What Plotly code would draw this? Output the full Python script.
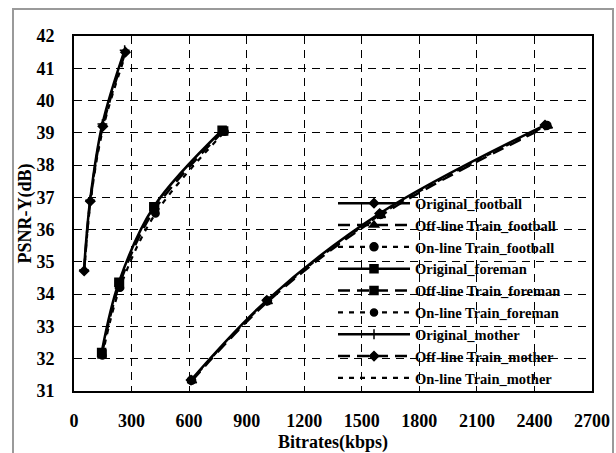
import plotly.graph_objects as go

# ---- data ----
football_orig_x = [610, 1005, 1593, 2455]
football_orig_y = [31.34, 33.81, 36.50, 39.24]
football_off_x = [615, 1010, 1600, 2470]
football_off_y = [31.32, 33.77, 36.44, 39.21]
football_on_x = [612, 1008, 1598, 2465]
football_on_y = [31.33, 33.79, 36.47, 39.23]

foreman_orig_x = [144, 234, 416, 772]
foreman_orig_y = [32.19, 34.37, 36.71, 39.08]
foreman_off_x = [146, 237, 420, 780]
foreman_off_y = [32.15, 34.30, 36.62, 39.06]
foreman_on_x = [148, 240, 425, 785]
foreman_on_y = [32.10, 34.20, 36.50, 39.03]

mother_orig_x = [52, 84, 148, 264]
mother_orig_y = [34.75, 36.91, 39.27, 41.56]
mother_off_x = [53, 85, 150, 268]
mother_off_y = [34.72, 36.88, 39.20, 41.50]
mother_on_x = [54, 86, 152, 270]
mother_on_y = [34.70, 36.85, 39.15, 41.45]

names = ["Original_football", "Off-line Train_football", "On-line Train_football",
         "Original_foreman", "Off-line Train_foreman", "On-line Train_foreman",
         "Original_mother", "Off-line Train_mother", "On-line Train_mother"]

xticks = [0, 300, 600, 900, 1200, 1500, 1800, 2100, 2400, 2700]
yticks = [31, 32, 33, 34, 35, 36, 37, 38, 39, 40, 41, 42]

series = [
    (football_orig_x, football_orig_y),
    (football_off_x, football_off_y),
    (football_on_x, football_on_y),
    (foreman_orig_x, foreman_orig_y),
    (foreman_off_x, foreman_off_y),
    (foreman_on_x, foreman_on_y),
    (mother_orig_x, mother_orig_y),
    (mother_off_x, mother_off_y),
    (mother_on_x, mother_on_y),
]

SOLID = "solid"
LONG = "12px,7px"
SHORT = "5px,6px"
styles = [
    (SOLID, 2.5, "diamond", 7),
    (LONG, 2.5, "triangle-up", 8),
    (SHORT, 2.2, "circle", 8),
    (SOLID, 2.5, "square", 8),
    (LONG, 2.5, "square", 8),
    (SHORT, 2.2, "circle", 7),
    (SOLID, 2.5, "cross-thin-open", 7),
    (LONG, 2.5, "diamond", 7),
    (SHORT, 2.2, None, 0),
]

fig = go.Figure()
for (xs, ys), nm, (dash, w, sym, sz) in zip(series, names, styles):
    mode = "lines+markers" if sym else "lines"
    marker = dict(symbol=sym, size=sz, color="black",
                  line=dict(color="black", width=1.5)) if sym else None
    fig.add_trace(go.Scatter(
        x=xs, y=ys, name=nm, mode=mode,
        line=dict(color="black", width=w, dash=dash, shape="spline", smoothing=1.0),
        marker=marker,
    ))

font_family = "Liberation Serif, Times New Roman, serif"

fig.update_layout(
    width=616, height=453,
    margin=dict(l=74, r=24, t=36, b=62, autoexpand=False),
    paper_bgcolor="white", plot_bgcolor="white",
    font=dict(family=font_family, color="black"),
    showlegend=True,
    legend=dict(
        x=0.50, y=0.574, xanchor="left", yanchor="top",
        bgcolor="rgba(0,0,0,0)", borderwidth=0,
        font=dict(family=font_family, size=14.5, color="black", weight="bold"),
        itemwidth=72, tracegroupgap=0,
    ),
    xaxis=dict(
        range=[0, 2700], tickvals=xticks, ticktext=[str(v) for v in xticks],
        automargin=False,
        showgrid=True, gridcolor="black", griddash="8px,6px", gridwidth=1,
        showline=True, linecolor="black", linewidth=2, mirror=True,
        ticks="inside", ticklen=5, tickcolor="black", zeroline=False,
        ticklabelstandoff=12,
        tickfont=dict(family=font_family, size=18, color="black", weight="bold"),
        title=dict(text="Bitrates(kbps)", standoff=6,
                   font=dict(family=font_family, size=18, color="black", weight="bold")),
    ),
    yaxis=dict(
        range=[31, 42], tickvals=yticks,
        automargin=False,
        showgrid=True, gridcolor="black", griddash="8px,6px", gridwidth=1,
        showline=True, linecolor="black", linewidth=2, mirror=True,
        ticks="inside", ticklen=5, tickcolor="black", zeroline=False,
        ticklabelstandoff=14,
        tickfont=dict(family=font_family, size=18, color="black", weight="bold"),
        title=dict(text="PSNR-Y(dB)", standoff=0,
                   font=dict(family=font_family, size=18, color="black", weight="bold")),
    ),
    shapes=[
        # white legend area hiding the grid
        dict(type="rect", xref="paper", yref="paper",
             x0=(310 - 74) / 518, x1=(589 - 74) / 518,
             y0=(391 - 389) / 355, y1=(391 - 194) / 355,
             fillcolor="white", line=dict(width=0), layer="between"),
        # outer gray frame
        dict(type="rect", xref="paper", yref="paper",
             x0=(13 - 74) / 518, x1=(613 - 74) / 518,
             y0=(391 - 470) / 355, y1=1 + (36 - 9) / 355,
             fillcolor="rgba(0,0,0,0)", line=dict(color="#9a9a9a", width=2),
             layer="below"),
    ],
)

fig.write_html("out.html")
